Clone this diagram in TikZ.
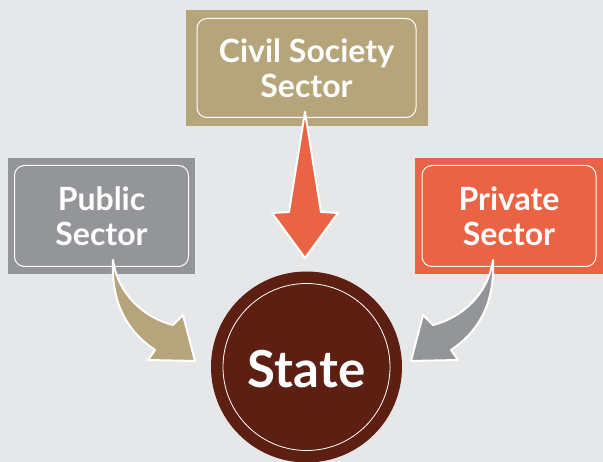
\documentclass[tikz,border=0pt]{standalone}
\usepackage{fontspec}
\setmainfont{Lato}
\usetikzlibrary{positioning}
\definecolor{paper}{HTML}{E6E7E8}
\definecolor{slate}{HTML}{939598}
\definecolor{sand}{HTML}{B6A57A}
\definecolor{coral}{HTML}{E96344}
\definecolor{umber}{HTML}{5D1F11}
\begin{document}
\begin{tikzpicture}
[x=1pt,y=-1pt,
 every node/.style={inner sep=0pt,outer sep=0pt},
 bg/.style={rectangle,minimum width=187pt,minimum height=116pt},
 lbl/.style={rectangle,draw=white,line width=1pt,rounded corners=10pt,minimum width=174pt,minimum height=101pt,
             text=white,align=center,font=\fontsize{32}{35}\selectfont\bfseries},
 hub/.style={circle,fill=umber,minimum size=191pt,text=white,text height=42pt,text depth=0pt,
             font=\fontsize{51}{60}\selectfont\bfseries},
 ring/.style={circle,draw=white,line width=0.8pt,minimum size=167pt},
 blk/.style={draw=white,line width=2pt,line join=round}]
\fill[paper] (0,0) rectangle (603,462);
\useasboundingbox (0,0) rectangle (603,462);

\node[hub]  (state) at (306.5,367) {State};
\node[ring] (statering) at (state) {};

\node[bg,fill=sand,minimum width=242pt] (civilbg) [on grid,above=299pt of state]                 {};
\node[bg,fill=slate]                    (pubbg)   [on grid,above left=151pt and 205pt of state]   {};
\node[bg,fill=coral,minimum width=188pt] (privbg) [on grid,above right=151pt and 202.5pt of state] {};
\node[lbl,minimum width=219pt,minimum height=99pt] (civil) at (civilbg) {Civil Society\\Sector};
\node[lbl] (pub)  at (pubbg)  {Public\\Sector};
\node[lbl] (priv) at (privbg) {Private\\Sector};

\coordinate (civilfoot) at ([xshift=-1.5pt,yshift=5.5pt]civil.south);
\coordinate (pubfoot)   at ([xshift=11.5pt,yshift=6.5pt]pub.south);
\coordinate (privfoot)  at ([xshift=-16pt,yshift=6.5pt]priv.south);

\begin{scope}[shift={(civilfoot)}]
\filldraw[blk,fill=coral] (0,0) -- (16,100) -- (33,101) -- (0,146) -- (-33,101) -- (-16,100) -- cycle;
\end{scope}
\begin{scope}[shift={(pubfoot)}]
\filldraw[blk,fill=sand] (0,0) .. controls (-2,40) and (12,70) .. (42,90) -- (35,100) -- (82,101) -- (70,55)
  -- (60,65) .. controls (32,58) and (5,35) .. (0,0) -- cycle;
\end{scope}
\begin{scope}[shift={(privfoot)},xscale=-1]
\filldraw[blk,fill=slate] (0,0) .. controls (-2,40) and (12,70) .. (42,90) -- (35,100) -- (82,101) -- (70,55)
  -- (60,65) .. controls (32,58) and (5,35) .. (0,0) -- cycle;
\end{scope}
\end{tikzpicture}
\end{document}
